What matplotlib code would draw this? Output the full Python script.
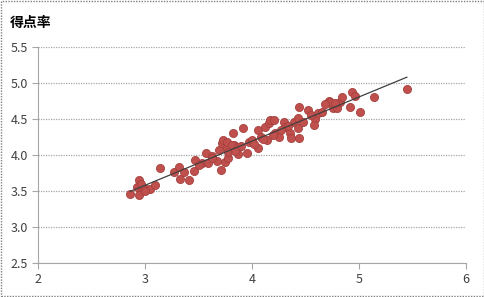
import numpy as np
import matplotlib.pyplot as plt
from matplotlib.patches import Rectangle

plt.rcParams['font.family'] = ['Noto Sans CJK JP', 'DejaVu Sans']

# data
x_vals = [2.86, 2.94, 2.925, 2.94, 2.97, 3.01, 3.05, 3.09, 3.14, 3.27,
          3.32, 3.33, 3.36, 3.41, 3.46, 3.47, 3.53, 3.57, 3.59, 3.625,
          3.67, 3.69, 3.71, 3.72, 3.73, 3.75, 3.77, 3.78, 3.82, 3.83,
          3.92, 3.77, 3.81, 3.87, 3.78, 3.87, 3.95, 3.97, 4.00, 4.06,
          4.08, 4.06, 4.14, 4.12, 4.16, 4.17, 4.21, 4.22, 4.25, 4.30,
          4.44, 4.52, 4.31, 4.39, 4.43, 4.43, 4.36, 4.37, 4.44, 4.59,
          4.62, 4.66, 4.58, 4.72, 4.76, 4.73, 4.80, 4.82, 4.84, 4.94,
          4.96, 4.92, 5.01, 5.14, 5.45, 2.96, 3.00, 3.84, 4.02, 4.10,
          4.27, 4.34, 4.48, 4.55, 4.68, 4.78, 3.90, 3.63, 3.50, 4.20]
y_vals = [3.46, 3.645, 3.55, 3.445, 3.55, 3.52, 3.53, 3.58, 3.81, 3.76,
          3.83, 3.66, 3.76, 3.655, 3.775, 3.93, 3.88, 4.03, 3.89, 3.98,
          3.92, 4.06, 3.785, 4.16, 4.20, 3.90, 4.09, 3.95, 4.30, 4.13,
          4.37, 4.18, 4.13, 4.11, 4.04, 4.01, 4.02, 4.18, 4.20, 4.34,
          4.25, 4.09, 4.20, 4.39, 4.44, 4.48, 4.48, 4.30, 4.25, 4.46,
          4.67, 4.62, 4.39, 4.46, 4.51, 4.37, 4.30, 4.23, 4.235, 4.50,
          4.575, 4.60, 4.41, 4.75, 4.645, 4.74, 4.645, 4.74, 4.80, 4.88,
          4.82, 4.67, 4.60, 4.81, 4.91, 3.60, 3.50, 4.05, 4.15, 4.22,
          4.35, 4.40, 4.45, 4.55, 4.70, 4.72, 4.12, 3.95, 3.86, 4.28]
x_ticks = [2, 3, 4, 5, 6]
y_ticks = [2.5, 3.0, 3.5, 4.0, 4.5, 5.0, 5.5]
title = '得点率'

fig = plt.figure(figsize=(4.85, 2.97), dpi=100)
ax = fig.add_axes([0.079, 0.1155, 0.881, 0.7265])

for yt in y_ticks:
    ax.axhline(yt, color='#a6a6a6', lw=0.9, ls=(0, (1, 1)), zorder=1)

ax.scatter(x_vals, y_vals, s=34, c='#c0504d', edgecolors='#a5403d',
           linewidths=0.6, zorder=3)

# linear trend line
k, b = np.polyfit(x_vals, y_vals, 1)
xs = np.array([min(x_vals), max(x_vals)])
ax.plot(xs, k * xs + b, color='#404040', lw=0.9, zorder=4)

ax.set_xlim(2, 6)
ax.set_ylim(2.5, 5.5)
ax.set_xticks(x_ticks)
ax.set_yticks(y_ticks)
ax.set_xticklabels([str(t) for t in x_ticks])
ax.set_yticklabels(['%.1f' % t for t in y_ticks])
for s in ['top', 'right']:
    ax.spines[s].set_visible(False)
ax.spines['left'].set_color('#a6a6a6')
ax.spines['bottom'].set_color('#a6a6a6')
ax.tick_params(colors='#a6a6a6', labelcolor='#404040', labelsize=9,
               length=4, width=0.8)

fig.text(0.02, 0.91, title, fontsize=10, fontweight='bold', color='black')

fig.patches.append(Rectangle((0.002, 0.003), 0.995, 0.993, transform=fig.transFigure,
                             fill=False, ec='#808080', lw=1.0, ls=(0, (1, 1))))

fig.savefig('out.png', dpi=100)
